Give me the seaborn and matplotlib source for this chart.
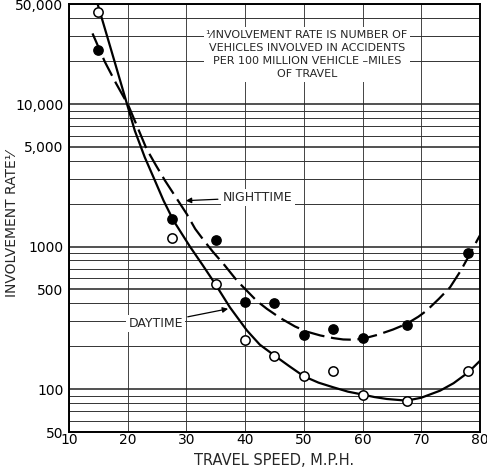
import matplotlib
matplotlib.use("Agg")
import matplotlib.pyplot as plt
import matplotlib.ticker as mticker
import seaborn as sns
import pandas as pd

# Observed points
night_speed = [15, 27.5, 35, 40, 45, 50, 55, 60, 67.5, 78]
night_rate = [24000, 1570, 1120, 410, 405, 241, 264, 227, 282, 903]
day_speed = [15, 27.5, 35, 40, 45, 50, 55, 60, 67.5, 78]
day_rate = [44000, 1150, 547, 221, 172, 123, 133, 91.5, 82, 133]

# Fitted curves
day_curve_x = [14.9, 17.0, 19.0, 21.2, 22.9, 24.5, 26.1, 27.8, 29.2, 30.6, 32.7, 34.9,
               37.4, 40.3, 42.5, 45.0, 47.5, 50.0, 52.5, 55.0, 57.5, 60.1, 62.0, 64.1,
               67.5, 70.0, 73.2, 75.5, 78.0, 80.0]
day_curve_y = [49900, 25400, 13300, 6517, 4236, 2990, 2103, 1521, 1233, 1000, 748, 547,
               375, 258, 205, 172, 145, 123, 111, 103, 96, 91.4, 88, 85.3,
               83, 87, 97.5, 110, 131, 158]
night_curve_x = [14.0, 16.1, 18.0, 20.1, 21.6, 23.2, 24.8, 26.35, 28.2, 30.05, 31.5,
                 33.0, 34.5, 36.5, 38.6, 40.5, 42.0, 43.7, 46.0, 48.5, 50.5, 52.8,
                 55.0, 56.7, 58.5, 60.1, 62.5, 65.2, 67.5, 69.5, 70.9, 73.0, 74.9,
                 76.7, 78.3, 79.5, 80.0]
night_curve_y = [31300, 19800, 14000, 9800, 6980, 4853, 3720, 2904, 2218, 1694, 1330,
                 1100, 920, 740, 577, 480, 415, 366, 315, 275, 253, 238,
                 228, 223, 222, 226, 240, 262, 287, 322, 355, 430, 518,
                 675, 889, 1102, 1200]

y_ticks = [50, 100, 500, 1000, 5000, 10000, 50000]
y_labels = ["50", "100", "500", "1000", "5,000", "10,000", "50,000"]
x_ticks = [10, 20, 30, 40, 50, 60, 70, 80]

sns.set_style("white")
plt.rcParams['font.family'] = ['DejaVu Sans']

fig = plt.figure(figsize=(4.87, 4.76), dpi=100)
ax = fig.add_axes([0.1417, 0.0924, 0.8439, 0.8983])

ax.set_yscale("log")
ax.set_xlim(10, 80)
ax.set_ylim(50, 50000)

ax.set_xticks(x_ticks)
ax.set_xticklabels([str(v) for v in x_ticks])
ax.yaxis.set_major_locator(mticker.FixedLocator(y_ticks))
ax.yaxis.set_major_formatter(mticker.FixedFormatter(y_labels))
ax.yaxis.set_minor_locator(mticker.LogLocator(base=10, subs=[2, 3, 4, 6, 7, 8, 9]))
ax.yaxis.set_minor_formatter(mticker.NullFormatter())
ax.tick_params(axis='both', which='both', length=0, labelsize=10, colors='black')
ax.tick_params(axis='x', pad=1)
ax.tick_params(axis='y', pad=4)

ax.grid(True, which='major', axis='y', color='#222222', linewidth=1.1)
ax.grid(True, which='minor', axis='y', color='#333333', linewidth=0.7)
ax.grid(True, which='major', axis='x', color='#444444', linewidth=0.7)
ax.set_axisbelow(True)
for s in ax.spines.values():
    s.set_color('black')
    s.set_linewidth(1.4)

day_curve = pd.DataFrame({"x": day_curve_x, "y": day_curve_y})
night_curve = pd.DataFrame({"x": night_curve_x, "y": night_curve_y})
sns.lineplot(data=day_curve, x="x", y="y", ax=ax, color="black", linewidth=1.6,
             sort=False, estimator=None)
sns.lineplot(data=night_curve, x="x", y="y", ax=ax, color="black", linewidth=1.6,
             sort=False, estimator=None)
ax.lines[-1].set_dashes([9, 3])
for ln in ax.lines[-2:]:
    ln.set_solid_joinstyle('round')
    ln.set_dash_joinstyle('round')

night_df = pd.DataFrame({"x": night_speed, "y": night_rate})
day_df = pd.DataFrame({"x": day_speed, "y": day_rate})
sns.scatterplot(data=night_df, x="x", y="y", ax=ax, color="black", s=45,
                edgecolor="black", linewidth=1, zorder=5)
sns.scatterplot(data=day_df, x="x", y="y", ax=ax, color="white", s=45,
                edgecolor="black", linewidth=1.1, zorder=5)

ax.set_xlabel("TRAVEL SPEED, M.P.H.", fontsize=10.5, labelpad=4)
ax.set_ylabel("INVOLVEMENT RATE\u00b9\u2044", fontsize=10)
ax.yaxis.set_label_coords(-0.122, 0.486)

ax.text(0.579, 0.94,
        "\u00b9\u2044INVOLVEMENT RATE IS NUMBER OF\nVEHICLES INVOLVED IN ACCIDENTS\nPER 100 MILLION VEHICLE \u2013MILES\nOF TRAVEL",
        transform=ax.transAxes, ha='center', va='top', fontsize=8, linespacing=1.38,
        bbox=dict(facecolor='white', edgecolor='none', pad=2))

ax.annotate("NIGHTTIME", xy=(29.9, 2100), xytext=(36.2, 2210),
            fontsize=9, ha='left', va='center',
            bbox=dict(facecolor='white', edgecolor='none', pad=1.5),
            arrowprops=dict(arrowstyle='-|>', color='black', lw=0.9,
                            shrinkA=2, shrinkB=0, mutation_scale=8))
ax.annotate("DAYTIME", xy=(37.1, 366), xytext=(29.4, 290),
            fontsize=9, ha='right', va='center',
            bbox=dict(facecolor='white', edgecolor='none', pad=1.5),
            arrowprops=dict(arrowstyle='-|>', color='black', lw=0.9,
                            shrinkA=2, shrinkB=0, mutation_scale=8))

fig.savefig("out.png", dpi=100)
